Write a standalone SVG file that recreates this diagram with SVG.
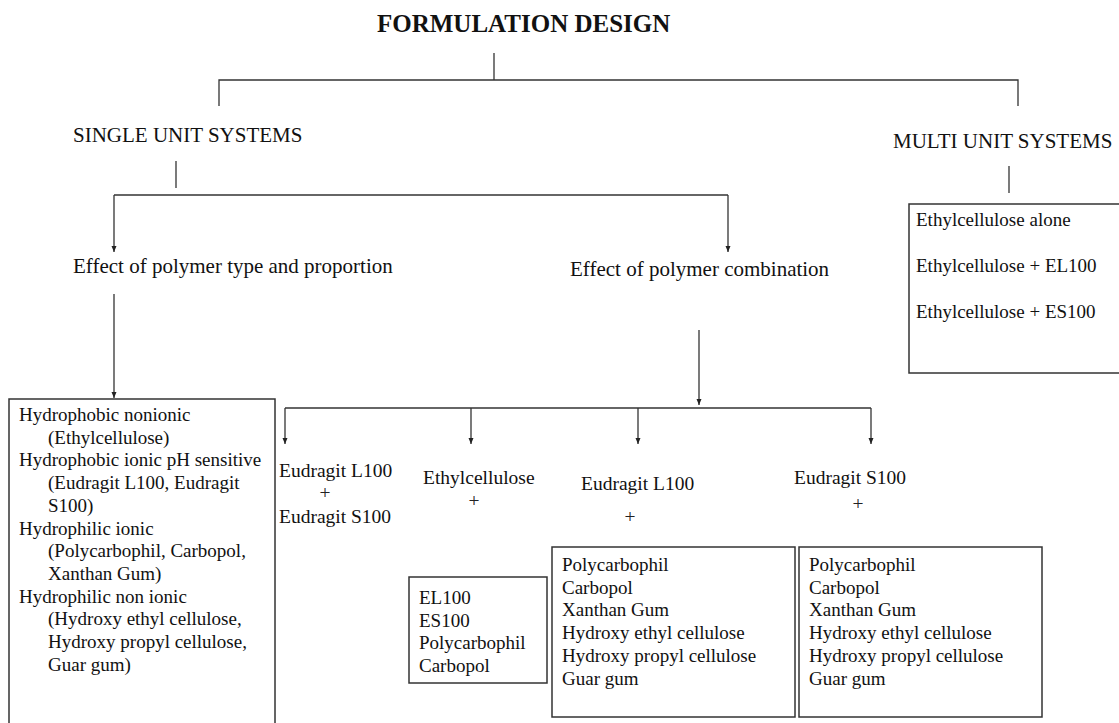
<svg xmlns="http://www.w3.org/2000/svg" width="1119" height="723" viewBox="0 0 1119 723">
<defs>
<marker id="ah" markerUnits="userSpaceOnUse" markerWidth="6" markerHeight="6" refX="6" refY="2.5" orient="auto">
<path d="M0,0 L6,2.5 L0,5 z" fill="#222"/>
</marker>
<style>
text{font-family:"Liberation Serif","Times New Roman",serif;fill:#111}
.t{font-size:25px;font-weight:bold}
.h{font-size:21px}
.b{font-size:19.5px}
.s{font-size:19px}
.p{font-size:19.5px;fill:#222;text-anchor:middle}
.box{fill:#fff;stroke:#333;stroke-width:1.5}
.c{fill:none;stroke:#333;stroke-width:1.3}
.a{fill:none;stroke:#333;stroke-width:1.3;marker-end:url(#ah)}
</style>
</defs>
<rect width="1119" height="723" fill="#fff"/>

<g id="connectors">
<path class="c" d="M494 53 V80"/>
<path class="c" d="M219 106 V80 H1018 V106"/>
<path class="c" d="M176 161 V188"/>
<path class="c" d="M114 195 H728"/>
<path class="a" d="M114 195 V252"/>
<path class="a" d="M728 195 V252"/>
<path class="a" d="M114 294 V398"/>
<path class="a" d="M699 330 V405"/>
<path class="c" d="M285 408 H871"/>
<path class="a" d="M285 408 V444"/>
<path class="a" d="M471 408 V444"/>
<path class="a" d="M638 408 V444"/>
<path class="a" d="M871 408 V444"/>
<path class="c" d="M1009 166 V193"/>
</g>

<g id="title"><text class="t" x="377" y="32">FORMULATION DESIGN</text></g>
<g id="single"><text class="h" x="73" y="142">SINGLE UNIT SYSTEMS</text></g>
<g id="multi"><text class="h" x="893" y="148">MULTI UNIT SYSTEMS</text></g>
<g id="effect-type"><text class="h" x="73" y="273">Effect of polymer type and proportion</text></g>
<g id="effect-combination"><text class="h" x="570" y="276">Effect of polymer combination</text></g>

<g id="multi-box">
<rect class="box" x="909" y="204" width="215" height="169"/>
<text class="s" x="916" y="226">Ethylcellulose alone</text>
<text class="s" x="916" y="272">Ethylcellulose + EL100</text>
<text class="s" x="916" y="318">Ethylcellulose + ES100</text>
</g>

<g id="polymer-types">
<rect class="box" x="9" y="399" width="266" height="335"/>
<text class="s" x="19" y="421">Hydrophobic nonionic</text>
<text class="s" x="48" y="443.7">(Ethylcellulose)</text>
<text class="s" x="19" y="466.4">Hydrophobic ionic pH sensitive</text>
<text class="s" x="48" y="489.1">(Eudragit L100, Eudragit</text>
<text class="s" x="48" y="511.8">S100)</text>
<text class="s" x="19" y="534.5">Hydrophilic ionic</text>
<text class="s" x="48" y="557.2">(Polycarbophil, Carbopol,</text>
<text class="s" x="48" y="579.9">Xanthan Gum)</text>
<text class="s" x="19" y="602.6">Hydrophilic non ionic</text>
<text class="s" x="48" y="625.3">(Hydroxy ethyl cellulose,</text>
<text class="s" x="48" y="648">Hydroxy propyl cellulose,</text>
<text class="s" x="48" y="670.7">Guar gum)</text>
</g>

<g id="el-es">
<text class="b" x="279" y="477">Eudragit L100</text>
<text class="p" x="325" y="499">+</text>
<text class="b" x="279" y="523">Eudragit S100</text>
</g>

<g id="ec-combo">
<text class="b" x="423" y="484">Ethylcellulose</text>
<text class="p" x="474" y="507">+</text>
<rect class="box" x="409" y="577" width="138" height="106"/>
<text class="s" x="419" y="604">EL100</text>
<text class="s" x="419" y="626.5">ES100</text>
<text class="s" x="419" y="649">Polycarbophil</text>
<text class="s" x="419" y="671.5">Carbopol</text>
</g>

<g id="el-combo">
<text class="b" x="581" y="490">Eudragit L100</text>
<text class="p" x="630" y="523">+</text>
<rect class="box" x="552" y="547" width="243" height="170"/>
<text class="s" x="562" y="571">Polycarbophil</text>
<text class="s" x="562" y="593.7">Carbopol</text>
<text class="s" x="562" y="616.4">Xanthan Gum</text>
<text class="s" x="562" y="639.1">Hydroxy ethyl cellulose</text>
<text class="s" x="562" y="661.8">Hydroxy propyl cellulose</text>
<text class="s" x="562" y="684.5">Guar gum</text>
</g>

<g id="es-combo">
<text class="b" x="794" y="484">Eudragit S100</text>
<text class="p" x="858" y="510">+</text>
<rect class="box" x="799" y="547" width="243" height="170"/>
<text class="s" x="809" y="571">Polycarbophil</text>
<text class="s" x="809" y="593.7">Carbopol</text>
<text class="s" x="809" y="616.4">Xanthan Gum</text>
<text class="s" x="809" y="639.1">Hydroxy ethyl cellulose</text>
<text class="s" x="809" y="661.8">Hydroxy propyl cellulose</text>
<text class="s" x="809" y="684.5">Guar gum</text>
</g>
</svg>
